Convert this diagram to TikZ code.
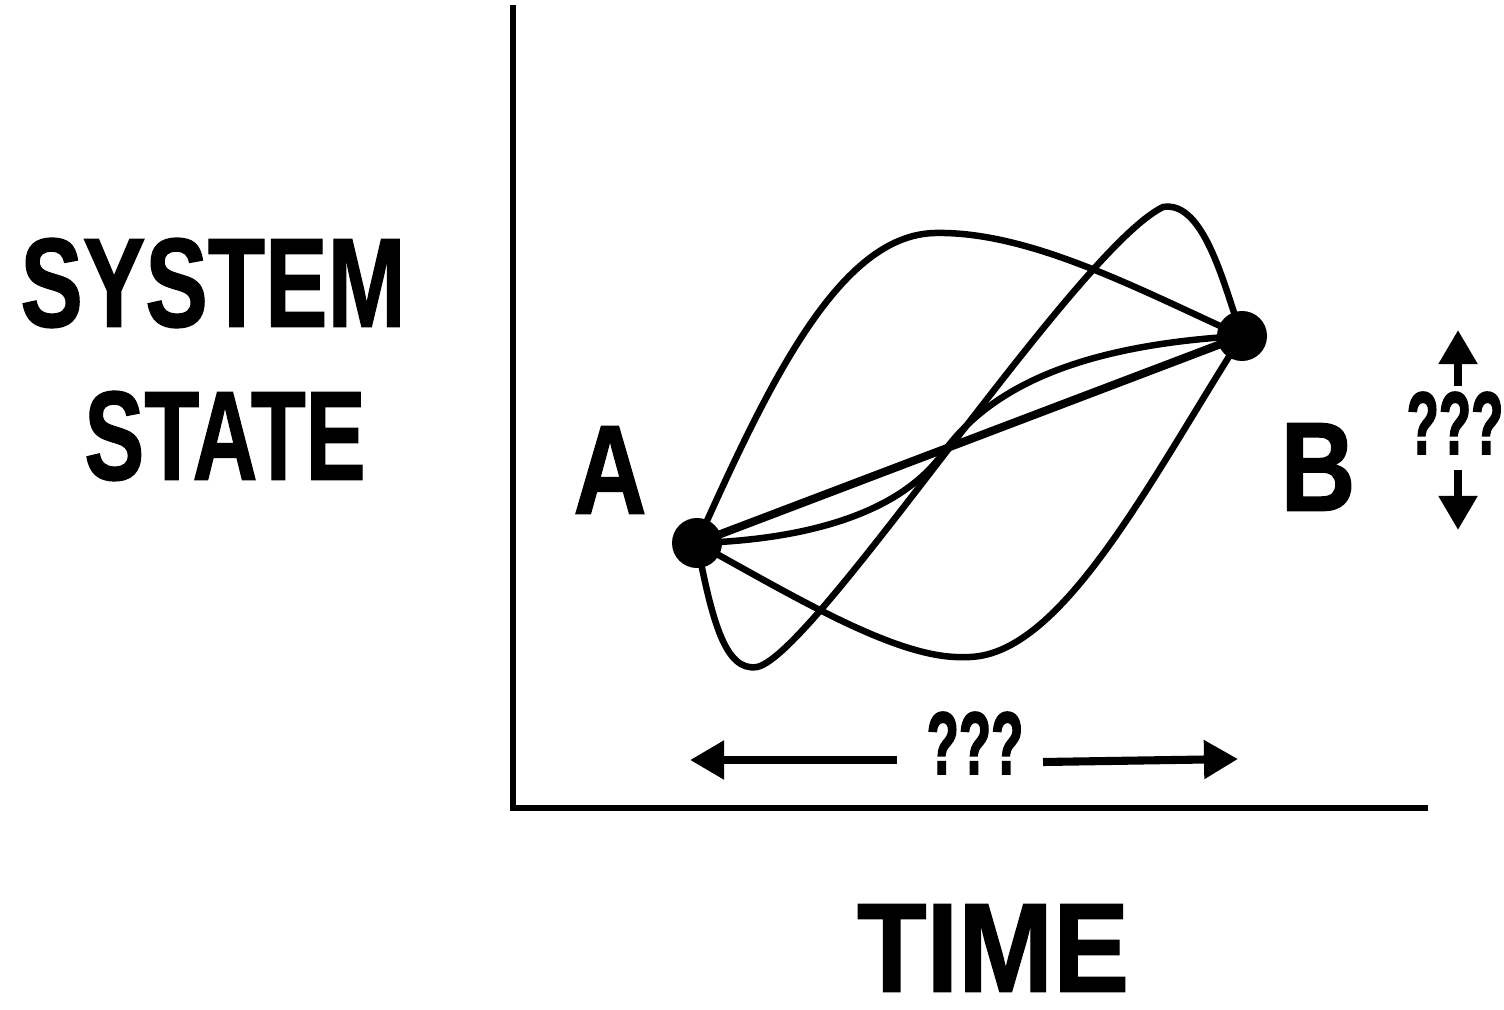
\documentclass[tikz,border=0pt]{standalone}
\usepackage{fontspec}
\setmainfont{Liberation Sans}
\newfontfamily\heavyfont{Liberation Sans Bold}[FakeBold=1.2]
\newfontfamily\qfont{Liberation Sans Bold}[FakeBold=2.5]
\usetikzlibrary{arrows.meta}
\tikzset{
  lbl/.style={inner sep=0pt, font=\heavyfont\fontsize{36}{40}\selectfont},
  qm/.style={inner sep=0pt, font=\qfont\fontsize{25}{28}\selectfont},
  axis/.style={line width=1.75pt},
  path/.style={line width=1.85pt},
  direct/.style={line width=2.3pt},
  dot/.style={circle, fill=black, minimum size=0.5cm, inner sep=0pt},
  harrow/.style={line width=2.3pt, -{Triangle[length=0.34cm, width=0.37cm]}},
}
\begin{document}
\begin{tikzpicture}[x=0.01cm, y=-0.01cm]
\useasboundingbox (0,0) rectangle (1504,1010);
% axes
\coordinate (top) at (513,8);
\coordinate (origin) at (513,808);
\coordinate (right) at (1425,808);
\draw[axis, line cap=rect] (top) -- (origin) -- (right);
% labels
\node[lbl] (sys) at (213,283) {\scalebox{0.74}[1]{SYSTEM}};
\node[lbl] (state) at (225,436) {\scalebox{0.71}[1]{STATE}};
\node[lbl] (time) at (993,948) {\scalebox{0.9}[1]{TIME}};
\node[lbl] (la) at (610,470) {\scalebox{0.8}[1]{A}};
\node[lbl] (lb) at (1318,467) {\scalebox{0.82}[1]{B}};
% points
\coordinate (A) at (697,543);
\coordinate (B) at (1242,336);
% paths
\draw[direct] (A) -- (B);
\draw[path] (A) .. controls (800,540) and (898,516) .. (943,453)
  .. controls (990,387) and (1080,345) .. (B);
\draw[path] (A) .. controls (770,380) and (840,235) .. (935,233)
  .. controls (1030,231) and (1140,290) .. (B);
\draw[path] (A) .. controls (712,620) and (725,672) .. (757,667)
  .. controls (815,655) and (1075,250) .. (1163,207)
  .. controls (1205,200) and (1225,290) .. (B);
\draw[path] (A) .. controls (800,600) and (900,660) .. (965,657)
  .. controls (1060,660) and (1150,480) .. (B);
\node[dot] (dA) at (A) {};
\node[dot] (dB) at (B) {};
% time uncertainty
\node[qm] (qt) at (975,743) {\scalebox{0.6}[1]{???}};
\coordinate (tl) at (690,760);
\coordinate (tr) at (1238,759);
\draw[harrow] (897,760) -- (tl);
\draw[harrow] (1043,762) -- (tr);
% state uncertainty
\node[qm] (qs) at (1455,423) {\scalebox{0.6}[1]{???}};
\coordinate (su) at (1458,330);
\coordinate (sd) at (1458,530);
\draw[harrow] (1458,386) -- (su);
\draw[harrow] (1458,470) -- (sd);
\end{tikzpicture}
\end{document}
